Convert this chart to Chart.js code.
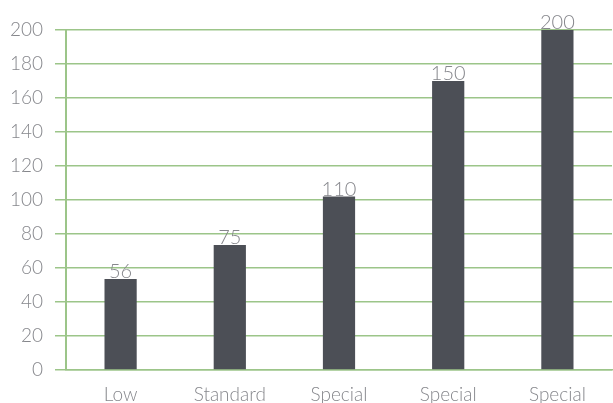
<!DOCTYPE html>
<html>
<head>
<meta charset="utf-8">
<script src="https://cdn.jsdelivr.net/npm/chart.js@4.4.0/dist/chart.umd.min.js"></script>
<style>
  html, body { margin: 0; padding: 0; background: #fff; }
  #wrap { width: 613px; height: 403px; }
</style>
</head>
<body>
<div id="wrap"><canvas id="myChart"></canvas></div>
<script>
var categorias = ['Low', 'Standard', 'Special', 'Special', 'Special'];
var valores = [53.5, 73.5, 102, 170, 200];
var etiquetas = ['56', '75', '110', '150', '200'];
var yTicks = [0, 20, 40, 60, 80, 100, 120, 140, 160, 180, 200];

var verde = '#9cc589';
var gris = '#86878c';
var fuente = { family: 'Lato', size: 19, weight: 300 };

// etiquetas encima de cada barra
var etiquetasBarras = {
  id: 'etiquetasBarras',
  afterDatasetsDraw: function(chart) {
    var ctx = chart.ctx;
    var meta = chart.getDatasetMeta(0);
    ctx.save();
    ctx.font = '300 20px Lato';
    ctx.fillStyle = gris;
    ctx.textAlign = 'center';
    ctx.textBaseline = 'alphabetic';
    meta.data.forEach(function(bar, i) {
      ctx.fillText(etiquetas[i], bar.x, bar.y - 1);
    });
    ctx.restore();
  }
};

new Chart(document.getElementById('myChart'), {
  type: 'bar',
  data: {
    labels: categorias,
    datasets: [{
      data: valores,
      backgroundColor: '#4c4f56',
      categoryPercentage: 1,
      barPercentage: 0.295
    }]
  },
  options: {
    responsive: true,
    maintainAspectRatio: false,
    animation: false,
    layout: { padding: { top: 30, right: 1, left: 0, bottom: 0 } },
    plugins: {
      legend: { display: false },
      tooltip: { enabled: false }
    },
    scales: {
      x: {
        grid: { display: false },
        border: { color: verde, width: 1.5 },
        ticks: { color: gris, font: fuente, padding: 5 },
        afterFit: function(scale) { scale.height = 33; }
      },
      y: {
        min: 0,
        max: 200,
        afterBuildTicks: function(scale) {
          scale.ticks = yTicks.map(function(v) { return { value: v }; });
        },
        grid: { color: verde, lineWidth: 1.5, tickLength: 11, tickColor: verde },
        border: { color: verde, width: 2 },
        ticks: { color: gris, font: fuente, padding: 12 },
        afterFit: function(scale) { scale.width = 66; }
      }
    }
  },
  plugins: [etiquetasBarras]
});
</script>
</body>
</html>
